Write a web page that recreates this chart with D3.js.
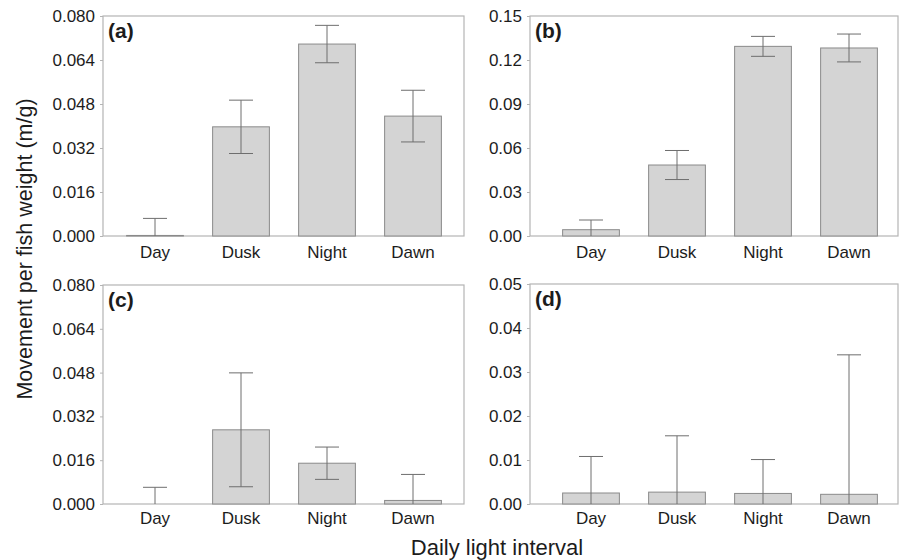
<!DOCTYPE html>
<html>
<head>
<meta charset="utf-8">
<script src="https://cdn.jsdelivr.net/npm/d3@7/dist/d3.min.js"></script>
<style>
  html, body { margin: 0; padding: 0; background: #fff; }
  svg { display: block; font-family: "Liberation Sans", Arial, sans-serif; }
</style>
</head>
<body>
<svg id="chart" width="904" height="560"></svg>
<script>
// ---- Data ----
const categories = ["Day", "Dusk", "Night", "Dawn"];

const meanA = [0.0002, 0.0397, 0.0698, 0.0436];
const seA   = [0.0062, 0.0097, 0.0068, 0.0094];
const ticksA = [0.000, 0.016, 0.032, 0.048, 0.064, 0.080];

const meanB = [0.0043, 0.0484, 0.1293, 0.1282];
const seB   = [0.0066, 0.0099, 0.0068, 0.0095];
const ticksB = [0.00, 0.03, 0.06, 0.09, 0.12, 0.15];

const meanC = [0.0000, 0.0271, 0.0149, 0.0013];
const seC   = [0.0061, 0.0208, 0.0059, 0.0095];
const ticksC = [0.000, 0.016, 0.032, 0.048, 0.064, 0.080];

const meanD = [0.0025, 0.0027, 0.0024, 0.0022];
const seD   = [0.0083, 0.0128, 0.0077, 0.0317];
const ticksD = [0.00, 0.01, 0.02, 0.03, 0.04, 0.05];

const panelLabels = ["(a)", "(b)", "(c)", "(d)"];
const yTitle = "Movement per fish weight (m/g)";
const xTitle = "Daily light interval";

// ---- Layout (positions, not data) ----
const panels = [
  { label: panelLabels[0], mean: meanA, se: seA, ticks: ticksA, fmt: ".3f",
    fx0: 103, fx1: 464, fy0: 16, fy1: 236, bx0: 112, bx1: 456, labBase: 258 },
  { label: panelLabels[1], mean: meanB, se: seB, ticks: ticksB, fmt: ".2f",
    fx0: 530, fx1: 898, fy0: 16, fy1: 236, bx0: 548, bx1: 892, labBase: 258 },
  { label: panelLabels[2], mean: meanC, se: seC, ticks: ticksC, fmt: ".3f",
    fx0: 103, fx1: 464, fy0: 285, fy1: 504, bx0: 112, bx1: 456, labBase: 524 },
  { label: panelLabels[3], mean: meanD, se: seD, ticks: ticksD, fmt: ".2f",
    fx0: 530, fx1: 898, fy0: 284, fy1: 504, bx0: 548, bx1: 892, labBase: 524 }
];

const svg = d3.select("#chart");
const textColor = "#1c1c1c";
const frameColor = "#b4b4b4";
const barFill = "#d4d4d4";
const barStroke = "#8a8a8a";
const errColor = "#6e6e6e";
const capW = 24;
const tickFont = "17px";

panels.forEach(p => {
  const g = svg.append("g");
  const x = d3.scaleBand().domain(categories).range([p.bx0, p.bx1])
    .paddingInner(0.34).paddingOuter(0.17);
  const y = d3.scaleLinear().domain([p.ticks[0], p.ticks[p.ticks.length - 1]])
    .range([p.fy1, p.fy0]);

  // frame
  g.append("rect")
    .attr("x", p.fx0).attr("y", p.fy0)
    .attr("width", p.fx1 - p.fx0).attr("height", p.fy1 - p.fy0)
    .attr("fill", "none").attr("stroke", frameColor).attr("stroke-width", 1.2);

  // y axis
  const ya = g.append("g").attr("transform", `translate(${p.fx0},0)`)
    .call(d3.axisLeft(y).tickValues(p.ticks).tickFormat(d3.format(p.fmt))
      .tickSize(3).tickPadding(5));
  ya.select(".domain").remove();
  ya.selectAll(".tick line").attr("stroke", frameColor);
  ya.selectAll(".tick text").attr("fill", textColor)
    .style("font-size", tickFont).style("font-family", "'Liberation Sans', Arial, sans-serif");

  // x axis
  const xa = g.append("g").attr("transform", `translate(0,${p.fy1})`)
    .call(d3.axisBottom(x).tickSize(0).tickPadding(p.labBase - p.fy1 - 12));
  xa.select(".domain").remove();
  xa.selectAll(".tick text").attr("fill", textColor)
    .style("font-size", tickFont).style("font-family", "'Liberation Sans', Arial, sans-serif");

  const data = categories.map((c, i) => ({ c, m: p.mean[i], s: p.se[i] }));

  // bars
  g.selectAll("rect.bar").data(data).join("rect")
    .attr("class", "bar")
    .attr("x", d => x(d.c))
    .attr("width", x.bandwidth())
    .attr("y", d => y(d.m))
    .attr("height", d => Math.max(0, y(0) - y(d.m)))
    .attr("fill", barFill)
    .attr("stroke", barStroke)
    .attr("stroke-width", 1);

  // error bars
  const eb = g.selectAll("g.err").data(data).join("g").attr("class", "err");
  eb.append("line")
    .attr("x1", d => x(d.c) + x.bandwidth() / 2)
    .attr("x2", d => x(d.c) + x.bandwidth() / 2)
    .attr("y1", d => y(Math.max(0, d.m - d.s)))
    .attr("y2", d => y(d.m + d.s))
    .attr("stroke", errColor).attr("stroke-width", 1);
  eb.append("line")
    .attr("x1", d => x(d.c) + x.bandwidth() / 2 - capW / 2)
    .attr("x2", d => x(d.c) + x.bandwidth() / 2 + capW / 2)
    .attr("y1", d => y(d.m + d.s))
    .attr("y2", d => y(d.m + d.s))
    .attr("stroke", errColor).attr("stroke-width", 1);
  eb.filter(d => d.m - d.s > 0).append("line")
    .attr("x1", d => x(d.c) + x.bandwidth() / 2 - capW / 2)
    .attr("x2", d => x(d.c) + x.bandwidth() / 2 + capW / 2)
    .attr("y1", d => y(d.m - d.s))
    .attr("y2", d => y(d.m - d.s))
    .attr("stroke", errColor).attr("stroke-width", 1);

  // panel label
  g.append("text")
    .attr("x", p.fx0 + 5).attr("y", p.fy0 + 22)
    .attr("fill", textColor)
    .style("font-size", "21px").style("font-weight", "bold")
    .text(p.label);
});

// axis titles
svg.append("text")
  .attr("transform", "translate(32,249) rotate(-90)")
  .attr("text-anchor", "middle")
  .attr("fill", textColor)
  .style("font-size", "21.5px")
  .text(yTitle);

svg.append("text")
  .attr("x", 497).attr("y", 555)
  .attr("text-anchor", "middle")
  .attr("fill", textColor)
  .style("font-size", "22px")
  .text(xTitle);
</script>
</body>
</html>
